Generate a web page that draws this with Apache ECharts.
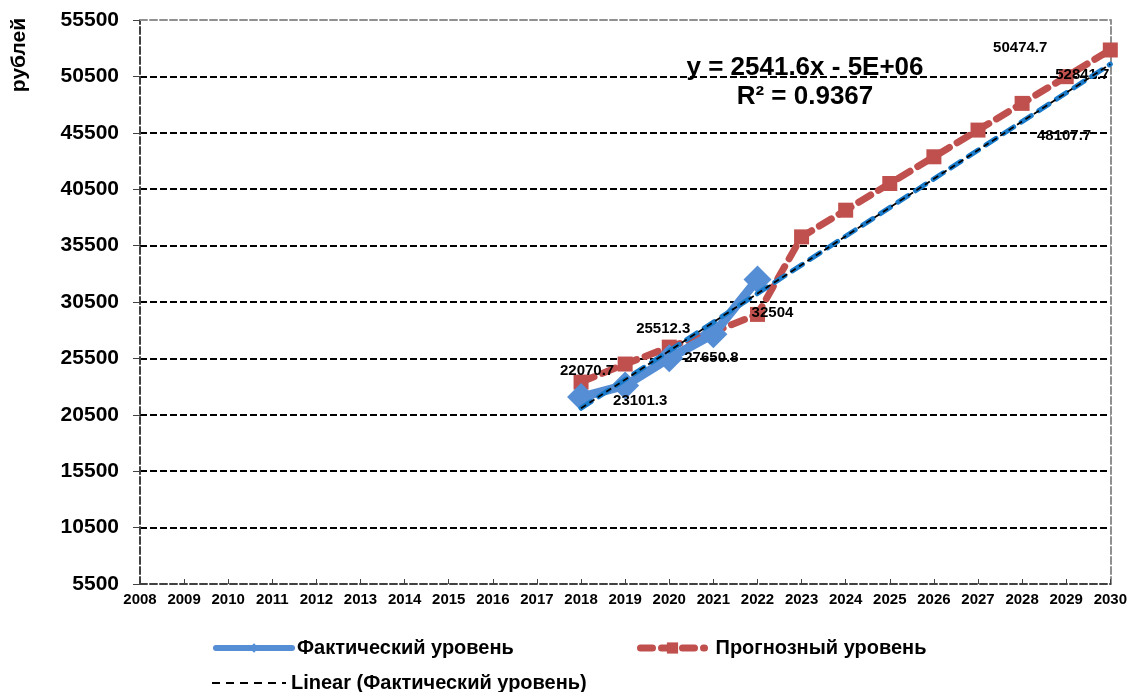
<!DOCTYPE html>
<html>
<head>
<meta charset="utf-8">
<script src="https://cdn.jsdelivr.net/npm/echarts@6/dist/echarts.min.js"></script>
<style>
html,body{margin:0;padding:0;background:#fff;}
#c{width:1130px;height:692px;}
</style>
</head>
<body>
<div id="c"></div>
<script>
// ---- data ----
const actualYears = [2018, 2019, 2020, 2021, 2022];
const actualValues = [22070.7, 23101.3, 25512.3, 27650.8, 32504];
const forecastYears = [2018, 2019, 2020, 2021, 2022, 2023, 2024, 2025, 2026, 2027, 2028, 2029, 2030];
const forecastValues = [23400, 25000, 26500, 27850, 29400, 36272.7, 38639.7, 41006.7, 43373.7, 45740.7, 48107.7, 50474.7, 52841.7];
const trendYears = [2018, 2030];
const trendValues = [21085, 51584];
const yTicks = [5500, 10500, 15500, 20500, 25500, 30500, 35500, 40500, 45500, 50500, 55500];
const xRange = [2008, 2030];
const seriesNames = ['Фактический уровень', 'Прогнозный уровень', 'Linear (Фактический уровень)'];
const equationText = 'y = 2541.6x - 5E+06';
const r2Text = 'R² = 0.9367';
const yTitle = 'рублей';

// label placement (styling only)
const actualLabelOffsets = [[6, -26], [15, 15], [-6, -29], [-2, 24], [15, 33]];
const forecastLabelOffsets = {2028: [42, 32], 2029: [-46, -29], 2030: [-28, 25]};

const FONT = '"Liberation Sans", Arial, sans-serif';
const labelStyle = {fontFamily: FONT, fontWeight: 'bold', fontSize: 15, color: '#000'};

const actualData = actualYears.map((y, i) => ({
  value: [y, actualValues[i]],
  label: Object.assign({show: true, position: 'inside', offset: actualLabelOffsets[i],
    formatter: p => String(p.value[1])}, labelStyle)
}));
const forecastData = forecastYears.map((y, i) => {
  const d = {value: [y, forecastValues[i]]};
  if (forecastLabelOffsets[y]) {
    d.label = Object.assign({show: true, position: 'inside', offset: forecastLabelOffsets[y],
      formatter: p => String(p.value[1])}, labelStyle);
  }
  return d;
});
const trendData = trendYears.map((y, i) => [y, trendValues[i]]);

const chart = echarts.init(document.getElementById('c'), null, {renderer: 'canvas'});
const legendText = {fontFamily: FONT, fontWeight: 'bold', fontSize: 20, color: '#000'};
chart.setOption({
  animation: false,
  backgroundColor: '#fff',
  grid: {left: 140, right: 19, top: 20, bottom: 108, containLabel: false},
  xAxis: [{
    type: 'value', min: xRange[0], max: xRange[1], interval: 1,
    axisLine: {show: true, lineStyle: {color: '#404040', width: 2, type: [7, 3]}},
    axisTick: {show: true, inside: true, length: 5, lineStyle: {color: '#404040', width: 1}},
    axisLabel: {formatter: v => String(v), fontFamily: FONT, fontWeight: 'bold', fontSize: 15, color: '#000', margin: 8},
    splitLine: {show: false}
  }, {
    type: 'value', position: 'top', min: xRange[0], max: xRange[1], interval: 1,
    axisLine: {show: true, onZero: false, lineStyle: {color: '#909090', width: 2, type: [7, 3]}},
    axisTick: {show: false}, axisLabel: {show: false}, splitLine: {show: false}
  }],
  yAxis: [{
    type: 'value', min: yTicks[0], max: yTicks[yTicks.length - 1], interval: 5000,
    axisLine: {show: true, onZero: false, lineStyle: {color: '#404040', width: 2, type: [7, 3]}},
    axisTick: {show: true, length: 7, lineStyle: {color: '#404040', width: 1}},
    axisLabel: {formatter: v => String(v), fontFamily: FONT, fontWeight: 'bold', fontSize: 21, color: '#000', margin: 21},
    splitLine: {show: true, lineStyle: {color: '#000', width: 2, type: [7, 3]}}
  }, {
    type: 'value', position: 'right', min: yTicks[0], max: yTicks[yTicks.length - 1], interval: 5000,
    axisLine: {show: true, onZero: false, lineStyle: {color: '#909090', width: 2, type: [7, 3]}},
    axisTick: {show: false}, axisLabel: {show: false}, splitLine: {show: false}
  }],
  legend: [{
    data: [seriesNames[0]], left: 213, top: 638, itemWidth: 76, itemHeight: 12, textStyle: legendText,
    lineStyle: {width: 6, cap: 'round'}, padding: 0
  }, {
    data: [seriesNames[1]], left: 637, top: 638, itemWidth: 64, itemHeight: 14,
    textStyle: Object.assign({padding: [0, 0, 0, 6]}, legendText),
    lineStyle: {width: 7, type: [12, 9], cap: 'round'}, padding: 0
  }, {
    data: [seriesNames[2]], left: 211, top: 673, itemWidth: 74, itemHeight: 14, textStyle: legendText,
    lineStyle: {width: 2, type: [8, 6]}, itemStyle: {color: 'rgba(0,0,0,0)', borderWidth: 0}, padding: 0
  }],
  graphic: [{
    type: 'text', x: 19, y: 55, rotation: Math.PI / 2,
    style: {text: yTitle, font: 'bold 21px ' + FONT, fill: '#000', textAlign: 'center', textVerticalAlign: 'middle'}
  }, {
    type: 'text', x: 805, y: 68,
    style: {text: equationText, font: 'bold 26px ' + FONT, fill: '#000', textAlign: 'center', textVerticalAlign: 'middle'}
  }, {
    type: 'text', x: 805, y: 97,
    style: {text: r2Text, font: 'bold 26px ' + FONT, fill: '#000', textAlign: 'center', textVerticalAlign: 'middle'}
  }],
  series: [{
    name: seriesNames[1], type: 'line', data: forecastData,
    symbol: 'rect', symbolSize: 15,
    itemStyle: {color: '#C0504D'},
    lineStyle: {color: '#C0504D', width: 7, type: [14, 9], cap: 'round'},
    z: 2
  }, {
    name: seriesNames[0], type: 'line', data: actualData,
    symbol: 'diamond', symbolSize: 28,
    itemStyle: {color: '#558ED5'},
    lineStyle: {color: '#558ED5', width: 9, cap: 'round', join: 'round'},
    z: 3
  }, {
    name: 'trend-helper', type: 'line', data: trendData, symbol: 'none', silent: true,
    lineStyle: {color: '#1A7BCB', width: 5, type: [12, 9], cap: 'round'},
    z: 4
  }, {
    name: seriesNames[2], type: 'line', data: trendData, symbol: 'none',
    itemStyle: {color: '#000'},
    lineStyle: {color: '#000', width: 1.8, type: [6, 4]},
    z: 5
  }]
});
</script>
</body>
</html>
